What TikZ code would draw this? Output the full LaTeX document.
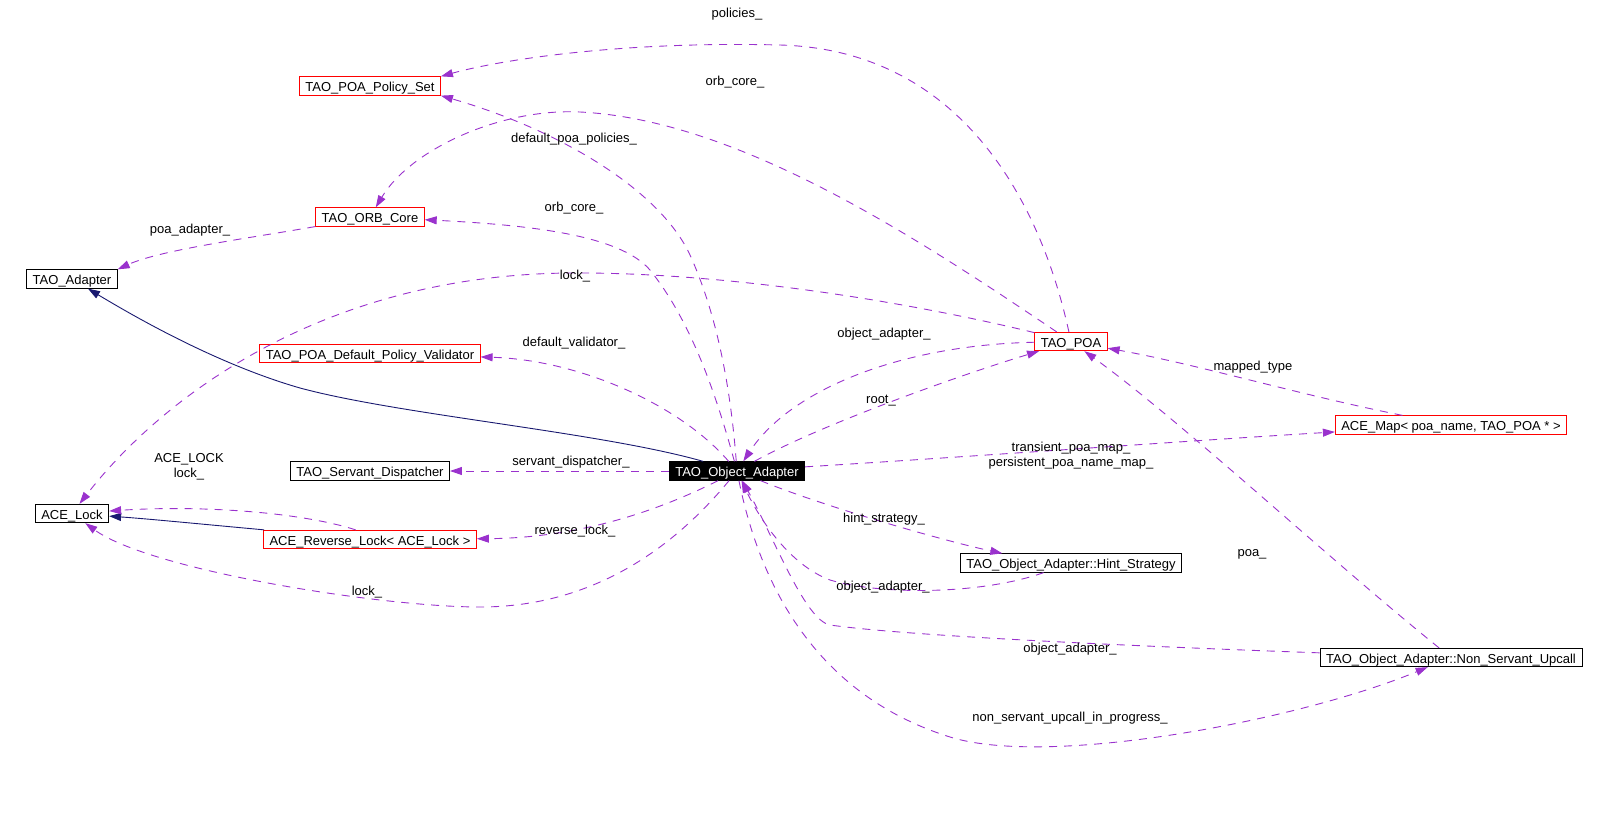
\documentclass[tikz,border=0pt]{standalone}
\usepackage{fontspec}
\setmainfont{Liberation Sans}
\usetikzlibrary{arrows.meta}
\definecolor{dxpurple}{RGB}{154,50,205}
\definecolor{dxnavy}{RGB}{25,25,112}
\definecolor{dxred}{RGB}{255,0,0}

\begin{document}
\begin{tikzpicture}[
  x=1pt, y=-1pt,
  font=\fontsize{13}{15}\selectfont,
  >={Triangle[length=12pt,width=8pt]},
  cls/.style={draw=black, line width=0.8pt, fill=white, inner xsep=6pt,
              inner ysep=0pt, minimum height=18.5pt, text height=11pt, text depth=0pt},
  undoc/.style={cls, draw=dxred},
  focus/.style={cls, fill=black, text=white},
  member/.style={->, dxpurple, line width=0.9pt, dash pattern=on 8pt off 7pt},
  derive/.style={->, dxnavy, line width=0.9pt},
  lbl/.style={inner sep=0pt, align=center},
]
\useasboundingbox (0,0) rectangle (1606,822);

% ==================== classes ====================
\node[undoc] (policyset)  at (370,86)    {TAO\_POA\_Policy\_Set};
\node[undoc] (orbcore)    at (370,217)   {TAO\_ORB\_Core};
\node[cls]   (adapter)    at (72,279)    {TAO\_Adapter};
\node[undoc] (validator)  at (370,353.5) {TAO\_POA\_Default\_Policy\_Validator};
\node[cls]   (dispatcher) at (370,471)   {TAO\_Servant\_Dispatcher};
\node[cls]   (acelock)    at (72,513.5)  {ACE\_Lock};
\node[undoc] (revlock)    at (370,539.5) {ACE\_Reverse\_Lock< ACE\_Lock >};
\node[focus] (objadapter) at (737,471)   {TAO\_Object\_Adapter};
\node[undoc] (poa)        at (1071,341.5) {TAO\_POA};
\node[undoc] (acemap)     at (1451,425)  {ACE\_Map< poa\_name, TAO\_POA * >};
\node[cls]   (hint)       at (1071,563)  {TAO\_Object\_Adapter::Hint\_Strategy};
\node[cls]   (nsu)        at (1451,657.5) {TAO\_Object\_Adapter::Non\_Servant\_Upcall};

% ==================== inheritance ====================
\draw[derive] (objadapter) .. controls (600,432) and (400,415) .. (300,388)
  .. controls (220,365) and (140,320) .. (adapter);
\draw[derive] (revlock) .. controls (200,524) and (150,519) .. (acelock);

% ==================== members ====================
\draw[member] (revlock.146) .. controls (300,512) and (200,505) .. (acelock);
\draw[member] (poa) .. controls (900,300) and (720,272) .. (570,273)
  .. controls (320,275) and (160,400) .. (acelock);
\draw[member] (objadapter) .. controls (680,540) and (600,607) .. (480,607)
  .. controls (380,607) and (150,570) .. (acelock);
\draw[member] (objadapter) .. controls (660,510) and (580,538) .. (revlock);
\draw[member] (objadapter) -- (dispatcher);
\draw[member] (objadapter) .. controls (680,405) and (580,360) .. (validator);
\draw[member] (objadapter) .. controls (715,390) and (690,320) .. (650,270)
  .. controls (620,235) and (530,225) .. (orbcore);
\draw[member] (objadapter) .. controls (730,380) and (715,310) .. (690,255)
  .. controls (660,190) and (560,130) .. (policyset.south east);
\draw[member] (poa) .. controls (1040,200) and (960,50) .. (780,45)
  .. controls (620,41) and (500,60) .. (policyset.north east);
\draw[member] (poa) .. controls (920,240) and (740,120) .. (580,112)
  .. controls (500,108) and (410,150) .. (orbcore);
\draw[member] (orbcore) .. controls (250,238) and (160,250) .. (adapter.north east);
\draw[member] (poa) .. controls (900,345) and (790,390) .. (objadapter);
\draw[member] (objadapter) .. controls (820,425) and (960,375) .. (poa);
\draw[member] (objadapter) .. controls (950,458) and (1200,440) .. (acemap);
\draw[member] (objadapter) .. controls (820,505) and (940,540) .. (hint.172);
\draw[member] (hint) .. controls (980,595) and (880,595) .. (830,580)
  .. controls (790,565) and (760,520) .. (objadapter);
\draw[member] (nsu) .. controls (1100,645) and (900,635) .. (830,625)
  .. controls (805,620) and (775,540) .. (objadapter);
\draw[member] (objadapter) .. controls (755,560) and (800,690) .. (950,737)
  .. controls (1050,768) and (1300,720) .. (nsu);
\draw[member] (nsu) .. controls (1330,560) and (1180,420) .. (poa);
\draw[member] (acemap) .. controls (1300,395) and (1200,365) .. (poa);

% ==================== edge labels ====================
\node[lbl] (lpolicies)  at (737,14)   {policies\_};
\node[lbl] (lorbpoa)    at (735,82)   {orb\_core\_};
\node[lbl] (ldefpol)    at (574,139)  {default\_poa\_policies\_};
\node[lbl] (lorboa)     at (574,208)  {orb\_core\_};
\node[lbl] (lpoaadapt)  at (190,230)  {poa\_adapter\_};
\node[lbl] (llockpoa)   at (575,276)  {lock\_};
\node[lbl] (ldefval)    at (574,343.5) {default\_validator\_};
\node[lbl] (lobjpoa)    at (884,334.5) {object\_adapter\_};
\node[lbl] (lroot)      at (881,401)  {root\_};
\node[lbl] (lmapped)    at (1253,367) {mapped\_type};
\node[lbl] (lmaps)      at (1071,455.5) {transient\_poa\_map\_\\persistent\_poa\_name\_map\_};
\node[lbl] (lservant)   at (571,462)  {servant\_dispatcher\_};
\node[lbl] (laceLock)   at (189,467)  {ACE\_LOCK\\lock\_};
\node[lbl] (lrevlock)   at (575,531)  {reverse\_lock\_};
\node[lbl] (lhint)      at (884,519)  {hint\_strategy\_};
\node[lbl] (lpoa)       at (1252,554) {poa\_};
\node[lbl] (lobjhint)   at (883,587)  {object\_adapter\_};
\node[lbl] (llockoa)    at (367,592)  {lock\_};
\node[lbl] (lobjnsu)    at (1070,649) {object\_adapter\_};
\node[lbl] (lnsu)       at (1070,718) {non\_servant\_upcall\_in\_progress\_};

\end{tikzpicture}
\end{document}
